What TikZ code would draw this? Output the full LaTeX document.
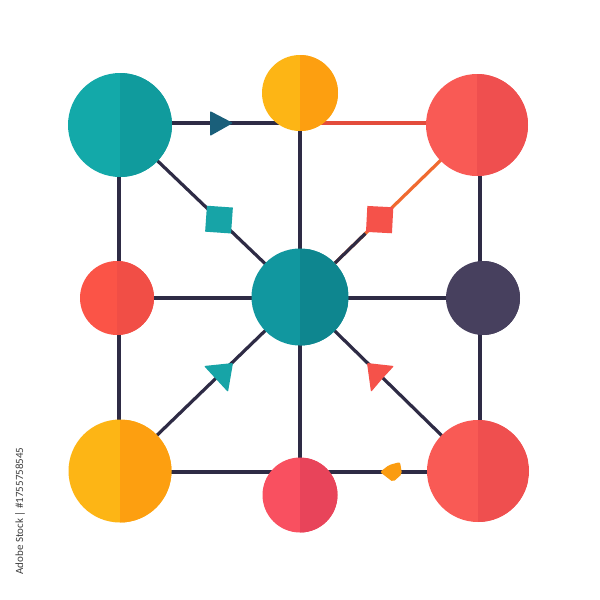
\documentclass[tikz,border=0pt]{standalone}
\usepackage{fontspec}
\newfontfamily\wmfont{Carlito}
\usetikzlibrary{backgrounds}
\definecolor{edge}{HTML}{2E2B45}
\definecolor{tealL}{HTML}{13A9A9}\definecolor{tealR}{HTML}{109B9D}
\definecolor{ctealL}{HTML}{11979F}\definecolor{ctealR}{HTML}{0E868F}
\definecolor{yelL}{HTML}{FDB515}\definecolor{yelR}{HTML}{FD9F10}
\definecolor{corL}{HTML}{F95A55}\definecolor{corR}{HTML}{EF4F4F}
\definecolor{redL}{HTML}{FB5447}\definecolor{redR}{HTML}{F14E46}
\definecolor{pinkL}{HTML}{F95060}\definecolor{pinkR}{HTML}{E8445A}
\definecolor{purp}{HTML}{47405E}
\definecolor{arrowblue}{HTML}{1A5F7A}
\definecolor{tealmark}{HTML}{17A4A7}
\definecolor{coralmark}{HTML}{F5524A}
\definecolor{coralline}{HTML}{E34C3C}
\definecolor{orangeline}{HTML}{F06A30}
\definecolor{orangemark}{HTML}{FB9C10}
\tikzset{
  ball/.style n args={3}{circle, inner sep=0pt, minimum size=#1, fill=#2,
    path picture={\fill[#3] (path picture bounding box.north) rectangle (path picture bounding box.south east);}},
  link/.style={line width=3.2pt, edge},
  sq/.style={rectangle, inner sep=0pt, minimum size=26pt, fill=#1}
}
\begin{document}
\begin{tikzpicture}[x=1pt,y=-1pt]
\useasboundingbox (0,0) rectangle (600,600);
% nodes
\node[ball={104pt}{tealL}{tealR}] (TL) at (120,125) {};
\node[ball={76pt}{yelL}{yelR}] (TM) at (300,93) {};
\node[ball={102pt}{corL}{corR}] (TR) at (477,125) {};
\node[ball={74pt}{redL}{redR}] (ML) at (117,298) {};
\node[ball={97pt}{ctealL}{ctealR}] (C) at (300,297) {};
\node[ball={74pt}{purp}{purp}] (MR) at (483,298) {};
\node[ball={103pt}{yelL}{yelR}] (BL) at (120,471) {};
\node[ball={75pt}{pinkL}{pinkR}] (BM) at (300,495) {};
\node[ball={102pt}{corL}{corR}] (BR) at (478,471) {};
\coordinate (T1) at (TL.center |- 0,123);
\coordinate (T2) at (TM.center |- 0,123);
\coordinate (T3) at (TR.center |- 0,123);
\coordinate (B1) at (BL.center |- 0,472);
\coordinate (B3) at (BR.center |- 0,472);
\begin{scope}[on background layer]
  \fill[white] (0,0) rectangle (600,600);
  \draw[link] (T1) -- (T2);
  \draw[link, coralline] (T2) -- (T3);
  \draw[link] ([xshift=-1pt]TL.center) -- ([xshift=-1pt]BL.center);
  \draw[link] ([xshift=3pt]TR.center) -- ([xshift=2pt]BR.center);
  \draw[link] (TM.center) -- (BM.center);
  \draw[link] (ML.center) -- (MR.center);
  \draw[link] (B1) -- (B3);
  \draw[link] (BL.center) -- (C.center);
  \draw[link] (BR.center) -- (C.center);
  \draw[link] (TL.center) -- node[pos=0.55, sq=tealmark, rotate=-4] (s1) {} (C.center);
  \draw[link, orangeline] (TR.center) -- node[pos=0.55, sq=coralmark, rotate=-3] (s2) {} (C.center);
  \draw[link] (s2) -- (C);
\end{scope}
% markers
\fill[arrowblue, rounded corners=1pt] (210,111) -- (233,123) -- (210,136) -- cycle;
\fill[tealmark, rounded corners=1pt] (233,363) -- (228,392) -- (216,379) -- (204,366) -- cycle;
\fill[coralmark, rounded corners=1pt] (367,363) -- (394,366) -- (382,379) -- (371,392) -- cycle;
\fill[orangemark, rounded corners=2pt] (380,472) -- (389,465) -- (400,462) -- (402,474) -- (393,482) -- cycle;
% watermark id
\node[rotate=90, font=\wmfont\fontsize{11}{12}\selectfont, text=black!75, inner sep=0pt] (wm) at (20,511) {Adobe Stock | \#1755758545};
\end{tikzpicture}
\end{document}
